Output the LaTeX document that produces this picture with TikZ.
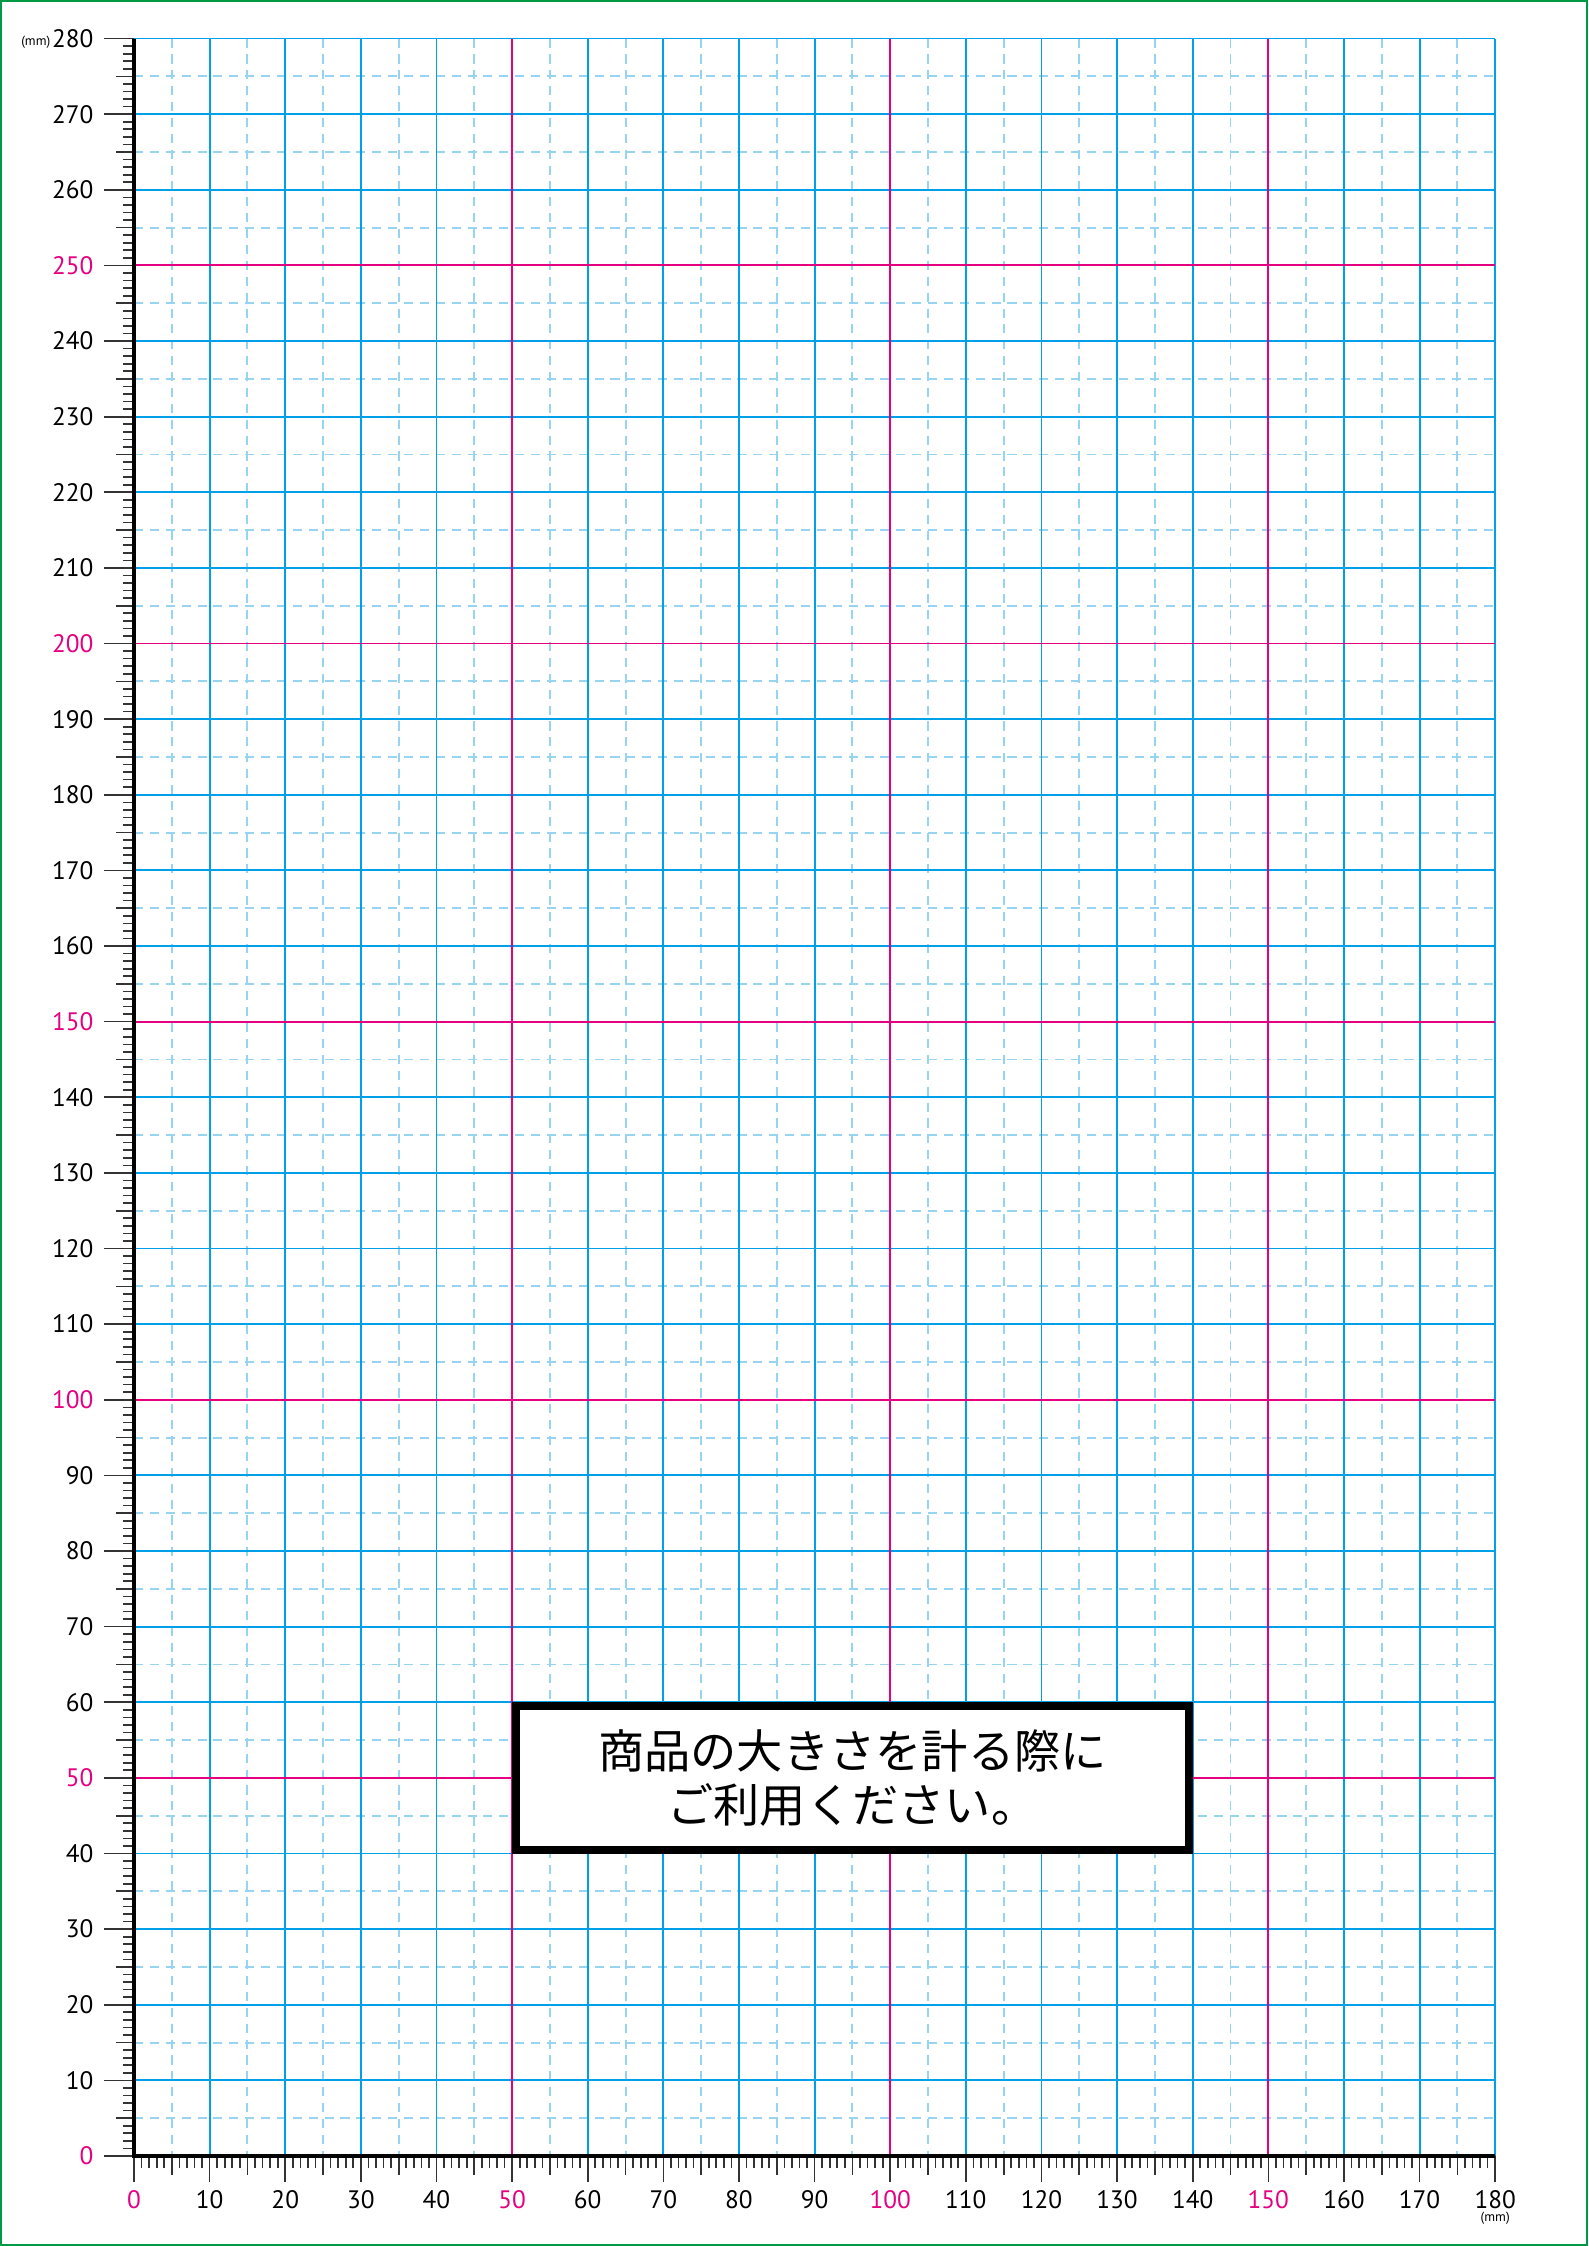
\documentclass[tikz,border=0pt]{standalone}
\usepackage{fontspec}
\setmainfont{PT Sans}
\newfontfamily\jpfont{Noto Sans CJK JP}
\definecolor{gridblue}{RGB}{0,160,233}
\definecolor{lightblue}{RGB}{150,212,242}
\definecolor{gridmagenta}{RGB}{228,0,127}
\definecolor{pagegreen}{RGB}{0,153,68}

\begin{document}
\begin{tikzpicture}[x=1mm,y=1mm,
  minor/.style={lightblue,line width=0.25mm,dash pattern=on 1.2mm off 0.9mm},
  major/.style={gridblue,line width=0.25mm},
  accent/.style={gridmagenta,line width=0.25mm},
  tick/.style={black!80,line width=0.22mm},
  lbl/.style={font=\fontsize{9.5}{9.5}\selectfont,inner sep=0pt},
  unit/.style={font=\fontsize{5}{5}\selectfont,inner sep=0pt}] % A4, 1 unit = 1 mm
  \useasboundingbox (-17.72,-11.9) rectangle (192.28,285.1);
  \draw[pagegreen,line width=0.3mm] (-17.57,-11.75) rectangle (192.13,284.95);
  % dashed 5 mm lines
  \foreach \i in {5,15,...,175}
    \draw[minor] (\i,280) -- (\i,0);
  \foreach \j in {5,15,...,275}
    \draw[minor] (0,\j) -- (180,\j);
  % 10 mm lines
  \foreach \i in {10,20,...,180}
    \draw[major] (\i,0) -- (\i,280);
  \foreach \j in {10,20,...,280}
    \draw[major] (0,\j) -- (180,\j);
  % 50 mm lines
  \foreach \i in {50,100,150}
    \draw[accent] (\i,0) -- (\i,280);
  \foreach \j in {50,100,...,250}
    \draw[accent] (0,\j) -- (180,\j);
  % rulers
  \foreach \i in {0,...,180}{
    \pgfmathsetmacro\len{ifthenelse(mod(\i,10)==0,3.4,ifthenelse(mod(\i,5)==0,2.5,1.6))}
    \draw[tick] (\i,0) -- (\i,-\len);
  }
  \foreach \j in {0,...,280}{
    \pgfmathsetmacro\len{ifthenelse(mod(\j,10)==0,4,ifthenelse(mod(\j,5)==0,2.4,1.5))}
    \draw[tick] (0,\j) -- (-\len,\j);
  }
  \draw[black,line width=0.55mm] (0,280) -- (0,0) -- (180,0);
  \foreach \v in {0,10,...,180}{
    \pgfmathtruncatemacro\m{mod(\v,50)}
    \ifnum\m=0 \def\c{gridmagenta}\else\def\c{black}\fi
    \node[lbl,text=\c] (xl\v) at (\v,-5.8) {\v};
  }
  \foreach \v in {0,10,...,280}{
    \pgfmathtruncatemacro\m{mod(\v,50)}
    \ifnum\m=0 \def\c{gridmagenta}\else\def\c{black}\fi
    \node[lbl,anchor=east,text=\c] (yl\v) at (-5.3,\v) {\v};
  }
  \node[unit,anchor=east] (yunit) at (-11,279.5) {(mm)};
  \node[unit,anchor=north] (xunit) at (180,-7.4) {(mm)};
  % notice
  \node[draw=black,line width=1mm,fill=white,minimum width=89mm,minimum height=19mm,
        inner sep=0pt,align=center,font=\jpfont\fontsize{17.4pt}{20.5pt}\selectfont]
    (note) at (95,50) {商品の大きさを計る際に\\ご利用ください。};
\end{tikzpicture}
\end{document}
